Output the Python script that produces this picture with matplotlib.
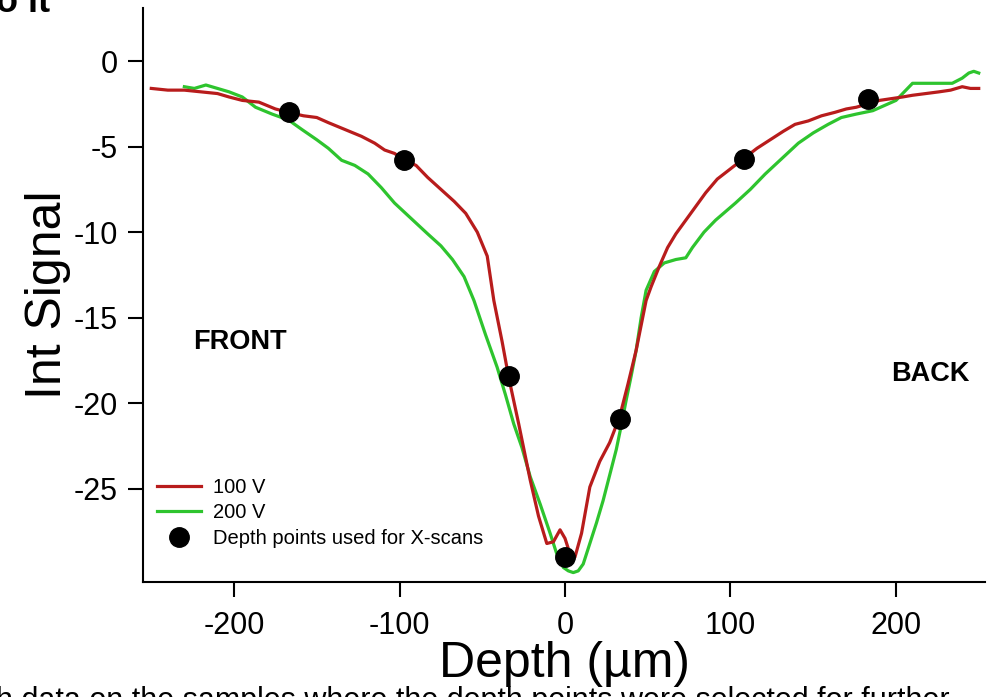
import matplotlib
matplotlib.use("Agg")
import matplotlib.pyplot as plt

plt.rcParams['font.family'] = ['Liberation Sans', 'DejaVu Sans']
plt.rcParams['axes.unicode_minus'] = False

# Depth profiles of integrated signal (depth in µm)
depth_100v = [-250, -240, -230, -220, -210, -203, -195, -185, -175, -167, -158, -150,
              -143, -133, -123, -115, -109, -103, -97, -90, -83, -75, -67, -60,
              -53, -47, -43, -38, -34, -28, -21, -16, -11, -7, -3, 0, 3, 6,
              10, 15, 21, 27, 33, 38, 43, 49, 52, 57, 62, 67, 73, 79, 85, 92,
              100, 108, 116, 124, 132, 139, 147, 155, 163, 170, 176, 183, 190,
              197, 204, 210, 218, 226, 233, 240, 245, 250]
signal_100v = [-1.6, -1.7, -1.7, -1.8, -1.9, -2.1, -2.3, -2.4, -2.8, -3.0, -3.2, -3.3,
               -3.6, -4.0, -4.4, -4.8, -5.2, -5.4, -5.8, -6.1, -6.8, -7.5, -8.2, -8.9,
               -10.0, -11.4, -14.0, -16.4, -18.5, -21.2, -24.5, -26.6, -28.2, -28.1, -27.4, -27.9, -28.8, -29.0,
               -27.6, -24.9, -23.4, -22.3, -20.8, -18.9, -16.9, -14.0, -13.2, -12.0, -10.9, -10.1, -9.3, -8.5, -7.7, -6.9,
               -6.3, -5.7, -5.1, -4.6, -4.1, -3.7, -3.5, -3.2, -3.0, -2.8, -2.7, -2.5, -2.3,
               -2.2, -2.1, -2.0, -1.9, -1.8, -1.7, -1.5, -1.6, -1.6]

depth_200v = [-230, -224, -217, -210, -203, -195, -187, -177, -167, -159, -150, -143,
              -135, -127, -119, -111, -103, -93, -83, -75, -68, -61, -55, -48,
              -41, -36, -31, -26, -21, -15, -9, -5, -1, 2, 5, 8, 11, 15, 19,
              23, 27, 31, 34, 37, 40, 43, 46, 49, 54, 60, 67, 73, 77, 84, 91,
              97, 103, 112, 121, 131, 141, 150, 159, 167, 176, 186, 193, 200,
              210, 218, 226, 234, 240, 244, 247, 250]
signal_200v = [-1.5, -1.6, -1.4, -1.6, -1.8, -2.1, -2.7, -3.1, -3.45, -4.0, -4.6, -5.1,
               -5.8, -6.1, -6.6, -7.4, -8.3, -9.2, -10.1, -10.8, -11.6, -12.6, -14.0, -16.0,
               -17.9, -19.5, -21.2, -22.6, -24.3, -25.9, -27.6, -28.8, -29.6, -29.8, -29.9, -29.8, -29.4, -28.2, -27.0,
               -25.7, -24.2, -22.7, -21.3, -19.8, -18.4, -16.9, -15.0, -13.4, -12.3, -11.8, -11.6, -11.5, -10.9, -10.0, -9.3,
               -8.8, -8.3, -7.5, -6.6, -5.7, -4.8, -4.2, -3.7, -3.3, -3.1, -2.9, -2.6, -2.3,
               -1.3, -1.3, -1.3, -1.3, -1.0, -0.7, -0.6, -0.7]

# Depths chosen for the X-scans
scan_depths = [-167, -97, -34, 0, 33, 108, 183]
scan_signals = [-3.0, -5.8, -18.4, -29.0, -20.9, -5.7, -2.2]

x_ticks = [-200, -100, 0, 100, 200]
y_ticks = [0, -5, -10, -15, -20, -25]

fig = plt.figure(figsize=(9.91, 6.97), dpi=100)
ax = fig.add_axes([0.1443, 0.165, 0.850, 0.8235])

ax.plot(depth_100v, signal_100v, color='#b81c1c', lw=2.3, label='100 V', zorder=3)
ax.plot(depth_200v, signal_200v, color='#2ec42e', lw=2.3, label='200 V', zorder=2)
ax.plot(scan_depths, scan_signals, 'o', color='black', ms=14, ls='none',
        label='Depth points used for X-scans', zorder=4)

ax.set_xlim(-255, 254)
ax.set_ylim(-30.45, 3.1)
ax.set_xticks(x_ticks)
ax.set_yticks(y_ticks)
ax.tick_params(axis='both', direction='out', length=11, width=1.5, labelsize=22)
ax.tick_params(axis='x', pad=10)
ax.tick_params(axis='y', pad=7)
for side in ('top', 'right'):
    ax.spines[side].set_visible(False)
for side in ('left', 'bottom'):
    ax.spines[side].set_linewidth(1.5)

ax.set_xlabel('Depth (µm)', fontsize=36, labelpad=0)
ax.set_ylabel('Int Signal', fontsize=36, labelpad=2)

ax.text(-225, -16.4, 'FRONT', fontsize=19.5, fontweight='bold', va='center')
ax.text(197, -18.3, 'BACK', fontsize=19.5, fontweight='bold', va='center')

ax.legend(loc='lower left', bbox_to_anchor=(0.0, 0.035), frameon=False, fontsize=14.5,
          handlelength=2.2, handletextpad=0.6, labelspacing=0.32, borderaxespad=0.3)

# Surrounding page text
fig.text(-0.004, 1 - 12 / 697, 'o it', fontsize=26, fontweight='bold', va='baseline')
fig.text(-0.004, -12 / 697, 'h data on the samples where the depth points were selected for further',
         fontsize=22, va='baseline', zorder=0)

fig.savefig('out.png', dpi=100)
